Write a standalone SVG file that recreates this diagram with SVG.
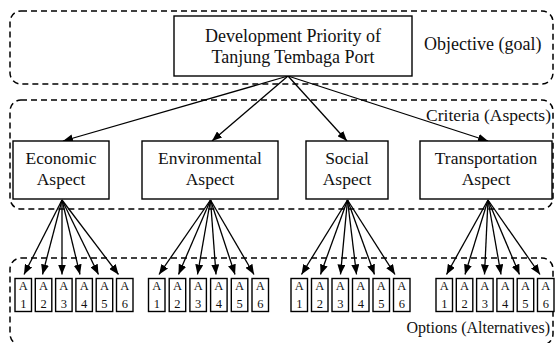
<svg xmlns="http://www.w3.org/2000/svg" width="555" height="343" viewBox="0 0 555 343">
  <style>
    .zone { fill: none; stroke: #000; stroke-width: 1.5; stroke-dasharray: 6 4; }
    .box { fill: #fff; stroke: #000; stroke-width: 1.4; }
    .t { font-family: "Liberation Serif", "Times New Roman", serif; font-size: 17.5px; fill: #111; }
    .big { font-size: 18px; }
    .opt { font-size: 16px; }
    .c { text-anchor: middle; }
    .s { font-family: "Liberation Serif", "Times New Roman", serif; font-size: 12.5px; fill: #111; text-anchor: middle; }
    .edge { stroke: #000; stroke-width: 1.3; fill: none; marker-end: url(#arrow); }
  </style>
  <defs>
    <marker id="arrow" markerUnits="userSpaceOnUse" markerWidth="10" markerHeight="8" refX="10" refY="4" orient="auto">
      <path d="M0,0 L10,4 L0,8 z" fill="#000"/>
    </marker>
  </defs>

  <rect width="555" height="343" fill="#fff"/>

  <!-- level bands -->
  <g id="bands">
    <rect class="zone" x="10" y="11" width="543" height="73" rx="11"/>
    <rect class="zone" x="10" y="100" width="543" height="109" rx="11"/>
    <rect class="zone" x="10" y="258" width="543" height="87" rx="11"/>
    <text class="t big" x="424" y="50">Objective (goal)</text>
    <text class="t" x="551" y="121" text-anchor="end">Criteria (Aspects)</text>
    <text class="t opt" x="550" y="333" text-anchor="end">Options (Alternatives)</text>
  </g>

  <!-- connectors -->
  <g id="connectors">
    <line class="edge" x1="288" y1="76" x2="63" y2="141"/>
    <line class="edge" x1="288" y1="76" x2="212" y2="141"/>
    <line class="edge" x1="288" y1="76" x2="347" y2="141"/>
    <line class="edge" x1="288" y1="76" x2="488" y2="141"/>

    <line class="edge" x1="62" y1="200" x2="24" y2="274.5"/>
    <line class="edge" x1="62" y1="200" x2="42.5" y2="274.5"/>
    <line class="edge" x1="62" y1="200" x2="62" y2="274.5"/>
    <line class="edge" x1="62" y1="200" x2="80" y2="274.5"/>
    <line class="edge" x1="62" y1="200" x2="98.5" y2="274.5"/>
    <line class="edge" x1="62" y1="200" x2="118.5" y2="274.5"/>

    <line class="edge" x1="210.5" y1="200" x2="159" y2="274.5"/>
    <line class="edge" x1="210.5" y1="200" x2="178.5" y2="274.5"/>
    <line class="edge" x1="210.5" y1="200" x2="197.5" y2="274.5"/>
    <line class="edge" x1="210.5" y1="200" x2="216" y2="274.5"/>
    <line class="edge" x1="210.5" y1="200" x2="235" y2="274.5"/>
    <line class="edge" x1="210.5" y1="200" x2="254" y2="274.5"/>

    <line class="edge" x1="347.5" y1="200" x2="301.5" y2="274.5"/>
    <line class="edge" x1="347.5" y1="200" x2="320.5" y2="274.5"/>
    <line class="edge" x1="347.5" y1="200" x2="340.5" y2="274.5"/>
    <line class="edge" x1="347.5" y1="200" x2="356.5" y2="274.5"/>
    <line class="edge" x1="347.5" y1="200" x2="374.5" y2="274.5"/>
    <line class="edge" x1="347.5" y1="200" x2="395" y2="274.5"/>

    <line class="edge" x1="488" y1="200" x2="446.5" y2="274.5"/>
    <line class="edge" x1="488" y1="200" x2="465" y2="274.5"/>
    <line class="edge" x1="488" y1="200" x2="484.5" y2="274.5"/>
    <line class="edge" x1="488" y1="200" x2="501" y2="274.5"/>
    <line class="edge" x1="488" y1="200" x2="519.5" y2="274.5"/>
    <line class="edge" x1="488" y1="200" x2="540" y2="274.5"/>
  </g>

  <!-- goal -->
  <g id="goal">
    <rect class="box" x="174" y="16" width="238" height="60"/>
    <text class="t big c" x="293" y="42">Development Priority of</text>
    <text class="t big c" x="293" y="63">Tanjung Tembaga Port</text>
  </g>

  <!-- criteria -->
  <g id="economic">
    <rect class="box" x="13" y="141" width="96" height="58"/>
    <text class="t c" x="61" y="164">Economic</text>
    <text class="t c" x="61" y="185">Aspect</text>
  </g>
  <g id="environmental">
    <rect class="box" x="142" y="141" width="136" height="58"/>
    <text class="t c" x="210" y="164">Environmental</text>
    <text class="t c" x="210" y="185">Aspect</text>
  </g>
  <g id="social">
    <rect class="box" x="306" y="141" width="82" height="58"/>
    <text class="t c" x="347" y="164">Social</text>
    <text class="t c" x="347" y="185">Aspect</text>
  </g>
  <g id="transportation">
    <rect class="box" x="420" y="141" width="132" height="58"/>
    <text class="t c" x="486" y="164">Transportation</text>
    <text class="t c" x="486" y="185">Aspect</text>
  </g>

  <!-- alternatives under Economic -->
  <g id="eco-a1"><rect class="box" x="15" y="278.5" width="16.5" height="33"/><text class="s" x="23.25" y="289.5">A</text><text class="s" x="23.25" y="307.5">1</text></g>
  <g id="eco-a2"><rect class="box" x="35.3" y="278.5" width="16.5" height="33"/><text class="s" x="43.55" y="289.5">A</text><text class="s" x="43.55" y="307.5">2</text></g>
  <g id="eco-a3"><rect class="box" x="55.6" y="278.5" width="16.5" height="33"/><text class="s" x="63.85" y="289.5">A</text><text class="s" x="63.85" y="307.5">3</text></g>
  <g id="eco-a4"><rect class="box" x="75.9" y="278.5" width="16.5" height="33"/><text class="s" x="84.15" y="289.5">A</text><text class="s" x="84.15" y="307.5">4</text></g>
  <g id="eco-a5"><rect class="box" x="96.2" y="278.5" width="16.5" height="33"/><text class="s" x="104.45" y="289.5">A</text><text class="s" x="104.45" y="307.5">5</text></g>
  <g id="eco-a6"><rect class="box" x="116.5" y="278.5" width="16.5" height="33"/><text class="s" x="124.75" y="289.5">A</text><text class="s" x="124.75" y="307.5">6</text></g>

  <!-- alternatives under Environmental -->
  <g id="env-a1"><rect class="box" x="148.5" y="278.5" width="16.5" height="33"/><text class="s" x="156.75" y="289.5">A</text><text class="s" x="156.75" y="307.5">1</text></g>
  <g id="env-a2"><rect class="box" x="169.2" y="278.5" width="16.5" height="33"/><text class="s" x="177.45" y="289.5">A</text><text class="s" x="177.45" y="307.5">2</text></g>
  <g id="env-a3"><rect class="box" x="189.9" y="278.5" width="16.5" height="33"/><text class="s" x="198.15" y="289.5">A</text><text class="s" x="198.15" y="307.5">3</text></g>
  <g id="env-a4"><rect class="box" x="210.6" y="278.5" width="16.5" height="33"/><text class="s" x="218.85" y="289.5">A</text><text class="s" x="218.85" y="307.5">4</text></g>
  <g id="env-a5"><rect class="box" x="231.3" y="278.5" width="16.5" height="33"/><text class="s" x="239.55" y="289.5">A</text><text class="s" x="239.55" y="307.5">5</text></g>
  <g id="env-a6"><rect class="box" x="252" y="278.5" width="16.5" height="33"/><text class="s" x="260.25" y="289.5">A</text><text class="s" x="260.25" y="307.5">6</text></g>

  <!-- alternatives under Social -->
  <g id="soc-a1"><rect class="box" x="291" y="278.5" width="16.5" height="33"/><text class="s" x="299.25" y="289.5">A</text><text class="s" x="299.25" y="307.5">1</text></g>
  <g id="soc-a2"><rect class="box" x="311.5" y="278.5" width="16.5" height="33"/><text class="s" x="319.75" y="289.5">A</text><text class="s" x="319.75" y="307.5">2</text></g>
  <g id="soc-a3"><rect class="box" x="332" y="278.5" width="16.5" height="33"/><text class="s" x="340.25" y="289.5">A</text><text class="s" x="340.25" y="307.5">3</text></g>
  <g id="soc-a4"><rect class="box" x="352.5" y="278.5" width="16.5" height="33"/><text class="s" x="360.75" y="289.5">A</text><text class="s" x="360.75" y="307.5">4</text></g>
  <g id="soc-a5"><rect class="box" x="373" y="278.5" width="16.5" height="33"/><text class="s" x="381.25" y="289.5">A</text><text class="s" x="381.25" y="307.5">5</text></g>
  <g id="soc-a6"><rect class="box" x="393.5" y="278.5" width="16.5" height="33"/><text class="s" x="401.75" y="289.5">A</text><text class="s" x="401.75" y="307.5">6</text></g>

  <!-- alternatives under Transportation -->
  <g id="tra-a1"><rect class="box" x="436" y="278.5" width="16.5" height="33"/><text class="s" x="444.25" y="289.5">A</text><text class="s" x="444.25" y="307.5">1</text></g>
  <g id="tra-a2"><rect class="box" x="456.3" y="278.5" width="16.5" height="33"/><text class="s" x="464.55" y="289.5">A</text><text class="s" x="464.55" y="307.5">2</text></g>
  <g id="tra-a3"><rect class="box" x="476.6" y="278.5" width="16.5" height="33"/><text class="s" x="484.85" y="289.5">A</text><text class="s" x="484.85" y="307.5">3</text></g>
  <g id="tra-a4"><rect class="box" x="496.9" y="278.5" width="16.5" height="33"/><text class="s" x="505.15" y="289.5">A</text><text class="s" x="505.15" y="307.5">4</text></g>
  <g id="tra-a5"><rect class="box" x="517.2" y="278.5" width="16.5" height="33"/><text class="s" x="525.45" y="289.5">A</text><text class="s" x="525.45" y="307.5">5</text></g>
  <g id="tra-a6"><rect class="box" x="537.5" y="278.5" width="16.5" height="33"/><text class="s" x="545.75" y="289.5">A</text><text class="s" x="545.75" y="307.5">6</text></g>
</svg>
